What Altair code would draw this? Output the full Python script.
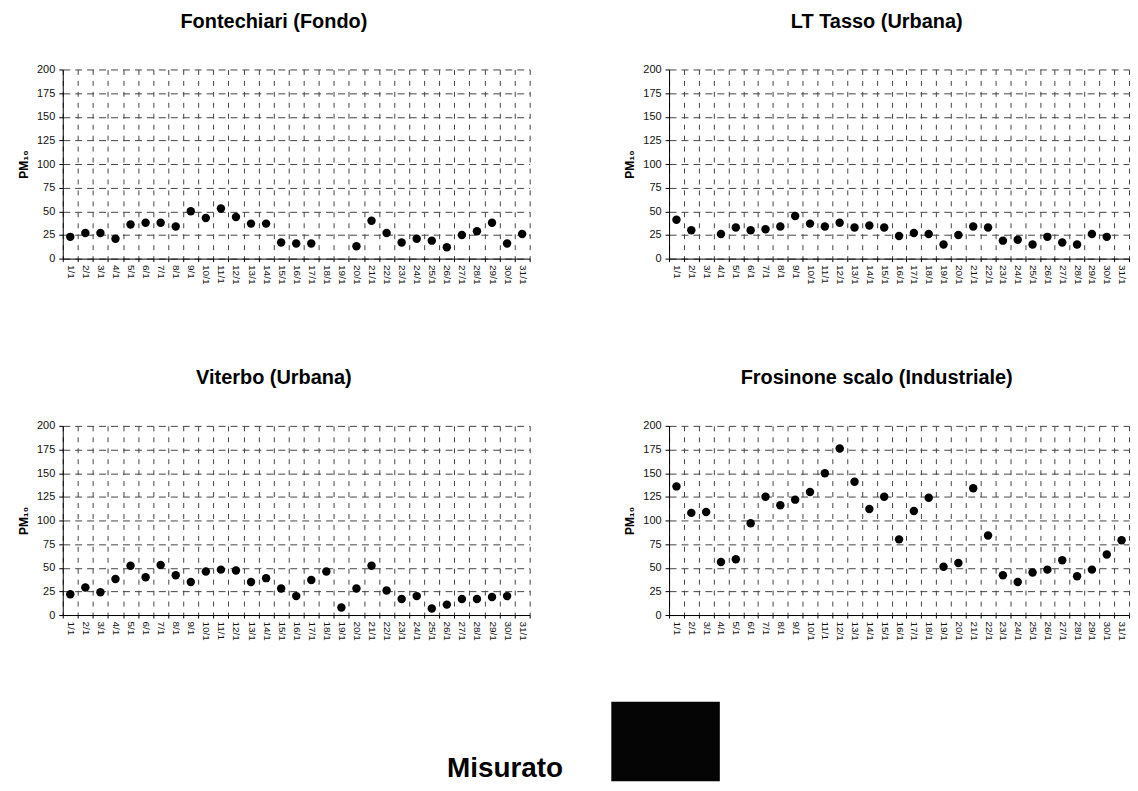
import altair as alt
import pandas as pd

giorni = ["1/1", "2/1", "3/1", "4/1", "5/1", "6/1", "7/1", "8/1", "9/1", "10/1",
          "11/1", "12/1", "13/1", "14/1", "15/1", "16/1", "17/1", "18/1", "19/1", "20/1",
          "21/1", "22/1", "23/1", "24/1", "25/1", "26/1", "27/1", "28/1", "29/1", "30/1", "31/1"]

fontechiari = [23, 27, 27, 21, 36, 38, 38, 34, 50, 43,
               53, 44, 37, 37, 17, 16, 16, None, None, 13,
               40, 27, 17, 21, 19, 12, 25, 29, 38, 16, 26]
lt_tasso = [41, 30, None, 26, 33, 30, 31, 34, 45, 37,
            34, 38, 33, 35, 33, 24, 27, 26, 15, 25,
            34, 33, 19, 20, 15, 23, 17, 15, 26, 23, None]
viterbo = [22, 29, 24, 38, 52, 40, 53, 42, 35, 46,
           48, 47, 35, 39, 28, 20, 37, 46, 8, 28,
           52, 26, 17, 20, 7, 11, 17, 17, 19, 20, None]
frosinone = [136, 108, 109, 56, 59, 97, 125, 116, 122, 130,
             150, 176, 141, 112, 125, 80, 110, 124, 51, 55,
             134, 84, 42, 35, 45, 48, 58, 41, 48, 64, 79]

titoli = ["Fontechiari (Fondo)", "LT Tasso (Urbana)", "Viterbo (Urbana)", "Frosinone scalo (Industriale)"]
y_ticks = [0, 25, 50, 75, 100, 125, 150, 175, 200]
legenda = ["Misurato"]

FONT = "Liberation Sans"


def pannello(titolo, valori, width):
    df = pd.DataFrame({"giorno": giorni, "pm10": valori}).dropna()
    return alt.Chart(df).mark_circle(size=72, color="black", opacity=1).encode(
        x=alt.X("giorno:O", sort=giorni,
                scale=alt.Scale(type="band", domain=giorni, paddingInner=0, paddingOuter=0),
                axis=alt.Axis(title=None, labelAngle=90, labelFont=FONT, labelFontSize=10,
                              labelColor="#111", tickBand="extent", tickSize=3, tickColor="black",
                              domainColor="black", grid=True, gridDash=[5, 6], gridColor="#444",
                              gridWidth=1, labelPadding=3)),
        y=alt.Y("pm10:Q", scale=alt.Scale(domain=[0, 200], nice=False),
                axis=alt.Axis(title="PM₁₀", titleFont=FONT, titleFontSize=12, titleFontWeight="bold",
                              titleColor="black", titlePadding=6, values=y_ticks, labelFont=FONT,
                              labelFontSize=11, labelColor="#111", tickSize=4, tickColor="black",
                              domainColor="black", grid=True, gridDash=[7, 5], gridColor="#444",
                              gridWidth=1, labelPadding=4)),
    ).properties(
        width=width, height=190,
        title=alt.TitleParams(titolo, font=FONT, fontSize=20, fontWeight="bold", color="black",
                              anchor="middle", frame="bounds", offset=23, dy=-9),
    )


riga1 = alt.hconcat(pannello(titoli[0], fontechiari, 469), pannello(titoli[1], lt_tasso, 462), spacing=93)
riga2 = alt.hconcat(pannello(titoli[2], viterbo, 469), pannello(titoli[3], frosinone, 462), spacing=93)
griglia = alt.vconcat(riga1, riga2, spacing=84)

leg_df = pd.DataFrame({"serie": legenda})
leg_testo = alt.Chart(leg_df).mark_text(font=FONT, fontSize=28, fontWeight="bold", color="black",
                                         align="left", baseline="alphabetic").encode(
    text="serie:N", x=alt.value(386), y=alt.value(134))
leg_box = alt.Chart(leg_df).mark_rect(color="#050505").encode(
    x=alt.value(551), x2=alt.value(660), y=alt.value(58), y2=alt.value(138))
legenda_chart = alt.layer(leg_box, leg_testo).properties(width=1000, height=138)

chart = alt.vconcat(griglia, legenda_chart, spacing=3).configure(
    padding={"left": 9, "top": 2, "right": 0, "bottom": 0}, background="white"
).configure_view(stroke=None)

chart.save("out.html", embed_options={"renderer": "svg", "actions": False})
